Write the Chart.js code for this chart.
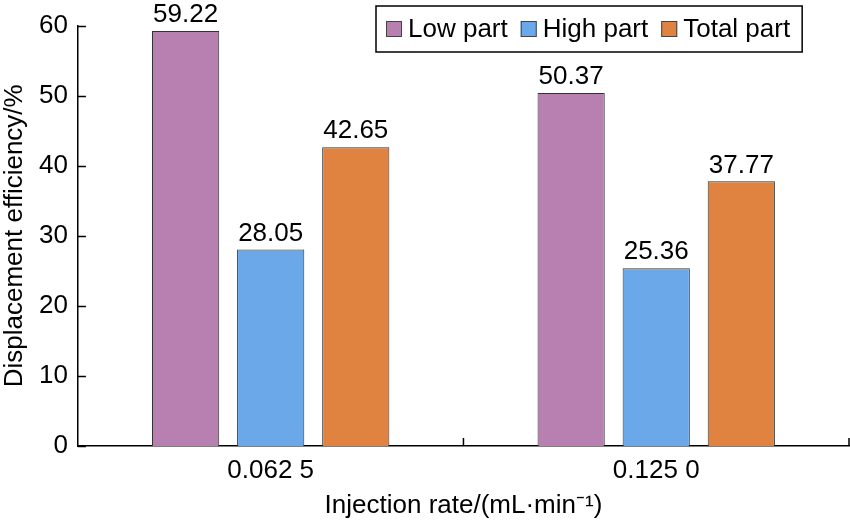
<!DOCTYPE html>
<html>
<head>
<meta charset="utf-8">
<script src="https://cdn.jsdelivr.net/npm/chart.js@4/dist/chart.umd.min.js"></script>
<style>
  html, body { margin: 0; padding: 0; background: #fff; }
  #wrap { width: 850px; height: 523px; }
</style>
</head>
<body>
<div id="wrap"><canvas id="chart"></canvas></div>
<script>
// data
const rates = ['0.062 5', '0.125 0'];
const lowPart = [59.22, 50.37];
const highPart = [28.05, 25.36];
const totalPart = [42.65, 37.77];
const yTicks = [0, 10, 20, 30, 40, 50, 60];

const FONT = '"Liberation Sans", Arial, sans-serif';

// value labels above each bar
const barLabels = {
  id: 'barLabels',
  afterDatasetsDraw(chart) {
    const ctx = chart.ctx;
    ctx.save();
    ctx.font = '26px ' + FONT;
    ctx.fillStyle = '#000';
    ctx.textAlign = 'center';
    ctx.textBaseline = 'bottom';
    chart.data.datasets.forEach((ds, i) => {
      chart.getDatasetMeta(i).data.forEach((bar, j) => {
        ctx.fillText(ds.data[j].toFixed(2), bar.x, bar.y - 3);
      });
    });
    ctx.restore();
  }
};

// inward tick marks on both axes
const innerTicks = {
  id: 'innerTicks',
  afterDraw(chart) {
    const { ctx, chartArea, scales } = chart;
    ctx.save();
    ctx.strokeStyle = '#000';
    ctx.lineWidth = 1.5;
    ctx.beginPath();
    yTicks.forEach(v => {
      const y = Math.round(scales.y.getPixelForValue(v)) + 0.5;
      ctx.moveTo(chartArea.left, y);
      ctx.lineTo(chartArea.left + 8, y);
    });
    for (let k = 1; k <= rates.length; k++) {
      const x = scales.x.getPixelForValue(k - 0.5);
      ctx.moveTo(x, chartArea.bottom);
      ctx.lineTo(x, chartArea.bottom - 8);
    }
    ctx.stroke();
    ctx.restore();
  }
};

// boxed legend in the top right corner
const boxLegend = {
  id: 'boxLegend',
  afterDraw(chart) {
    const ctx = chart.ctx;
    ctx.save();
    ctx.font = '26px ' + FONT;
    const left = 376, top = 6, h = 46, sq = 16, gap = 6, itemGap = 13;
    let x = left + 10;
    const cy = top + h / 2;
    chart.data.datasets.forEach(ds => {
      ctx.fillStyle = ds.backgroundColor;
      ctx.fillRect(x, cy - sq / 2, sq, sq);
      ctx.strokeStyle = '#444';
      ctx.lineWidth = 1;
      ctx.strokeRect(x + 0.5, cy - sq / 2 + 0.5, sq - 1, sq - 1);
      x += sq + gap;
      ctx.fillStyle = '#000';
      ctx.textBaseline = 'middle';
      ctx.textAlign = 'left';
      ctx.fillText(ds.label, x, cy + 1);
      x += ctx.measureText(ds.label).width + itemGap;
    });
    ctx.strokeStyle = '#000';
    ctx.lineWidth = 1.5;
    ctx.strokeRect(left, top, x - left - itemGap + 12, h);
    ctx.restore();
  }
};

new Chart(document.getElementById('chart'), {
  type: 'bar',
  data: {
    labels: rates,
    datasets: [
      { label: 'Low part', data: lowPart, backgroundColor: '#b87fb1' },
      { label: 'High part', data: highPart, backgroundColor: '#6aa8ea' },
      { label: 'Total part', data: totalPart, backgroundColor: '#e08341' }
    ].map(d => Object.assign(d, { borderColor: '#333', borderWidth: 1 }))
  },
  options: {
    responsive: true,
    maintainAspectRatio: false,
    animation: false,
    devicePixelRatio: 1,
    categoryPercentage: 0.662,
    barPercentage: 0.79,
    layout: { padding: { top: 19, right: 1, left: 0, bottom: 4 } },
    plugins: {
      legend: { display: false },
      tooltip: { enabled: false }
    },
    scales: {
      x: {
        grid: { display: false, drawTicks: false },
        border: { display: true, color: '#000', width: 1.5 },
        ticks: { color: '#000', font: { family: FONT, size: 26, lineHeight: 1 }, padding: 12 },
        title: {
          display: true,
          text: 'Injection rate/(mL\u00b7min\u207b\u00b9)',
          color: '#000',
          font: { family: FONT, size: 26, lineHeight: 1 },
          padding: { top: -3, bottom: 0 }
        }
      },
      y: {
        min: 0,
        max: 60,
        grid: { display: false, drawTicks: false },
        border: { display: true, color: '#000', width: 1.5 },
        afterBuildTicks: axis => { axis.ticks = yTicks.map(v => ({ value: v })); },
        ticks: { color: '#000', font: { family: FONT, size: 26 }, padding: 10 },
        title: {
          display: true,
          text: 'Displacement efficiency/%',
          color: '#000',
          font: { family: FONT, size: 26, lineHeight: 1 },
          padding: { top: 2, bottom: 1 }
        }
      }
    }
  },
  plugins: [barLabels, innerTicks, boxLegend]
});
</script>
</body>
</html>
